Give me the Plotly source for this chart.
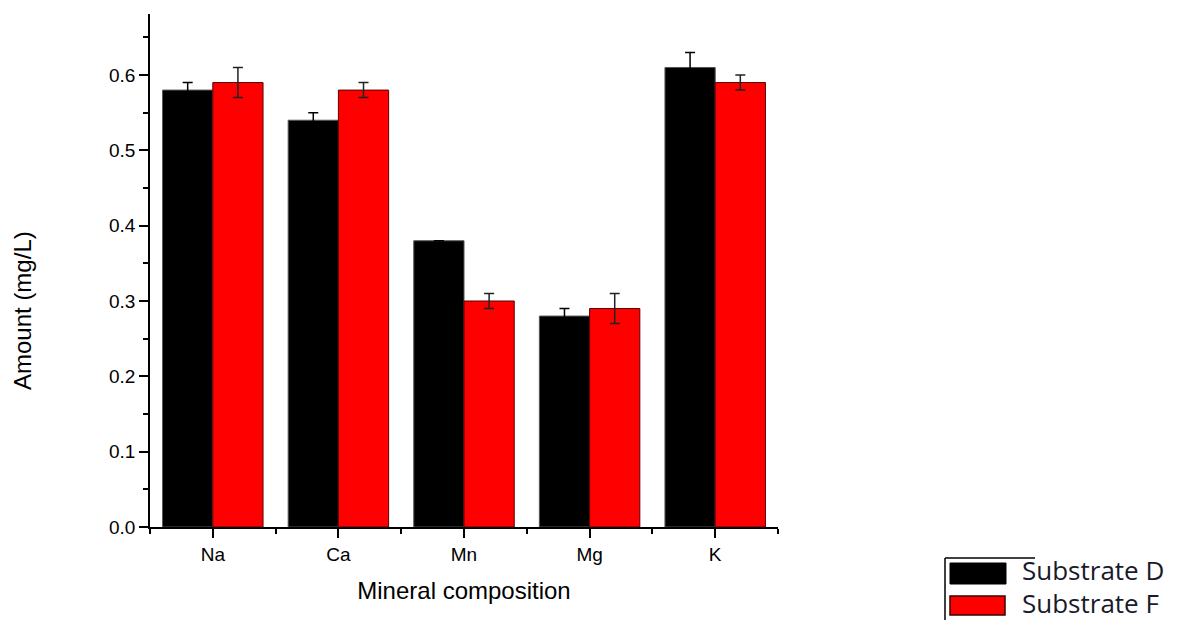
import plotly.graph_objects as go

categories = ["Na", "Ca", "Mn", "Mg", "K"]
series_names = ["Substrate D", "Substrate F"]
substrate_d = [0.58, 0.54, 0.38, 0.28, 0.61]
substrate_d_err = [0.01, 0.01, 0.0, 0.01, 0.02]
substrate_f = [0.59, 0.58, 0.30, 0.29, 0.59]
substrate_f_err = [0.02, 0.01, 0.01, 0.02, 0.01]
y_tick_vals = [0.0, 0.1, 0.2, 0.3, 0.4, 0.5, 0.6]
y_tick_text = ["0.0", "0.1", "0.2", "0.3", "0.4", "0.5", "0.6"]

x_idx = list(range(len(categories)))

fig = go.Figure()
fig.add_trace(go.Bar(
    x=x_idx, y=substrate_d, name=series_names[0],
    marker=dict(color="#000000", line=dict(color="#555555", width=1)),
    error_y=dict(type="data", array=substrate_d_err, visible=True,
                 color="#000000", thickness=1.5, width=5),
    width=0.4, offset=-0.4,
))
fig.add_trace(go.Bar(
    x=x_idx, y=substrate_f, name=series_names[1],
    marker=dict(color="#ff0000", line=dict(color="#5a0000", width=1)),
    error_y=dict(type="data", array=substrate_f_err, visible=True,
                 color="#222222", thickness=1.5, width=5),
    width=0.4, offset=0.0,
))

font_main = "Liberation Sans, Arial, sans-serif"

fig.update_layout(
    width=1179, height=620,
    paper_bgcolor="white", plot_bgcolor="white",
    margin=dict(l=150, r=401, t=14, b=93, pad=0),
    showlegend=False,
    barmode="overlay",
    font=dict(family=font_main, color="#000000"),
    xaxis=dict(
        range=[-0.5, 4.5],
        tickmode="array", tickvals=x_idx, ticktext=categories,
        ticks="outside", ticklen=9, tickwidth=1.5, tickcolor="#000",
        minor=dict(tick0=-0.5, dtick=1, ticks="outside", ticklen=5,
                   tickwidth=1.5, tickcolor="#000"),
        showline=True, linecolor="#000", linewidth=1.5,
        showgrid=False, zeroline=False,
        tickfont=dict(size=19, family=font_main),
        title=dict(text="Mineral composition", font=dict(size=24, family=font_main), standoff=19),
    ),
    yaxis=dict(
        range=[0, 0.681],
        tickmode="array", tickvals=y_tick_vals, ticktext=y_tick_text,
        ticks="outside", ticklen=9, tickwidth=1.5, tickcolor="#000",
        minor=dict(tick0=0, dtick=0.05, ticks="outside", ticklen=5,
                   tickwidth=1.5, tickcolor="#000"),
        showline=True, linecolor="#000", linewidth=1.5,
        showgrid=False, zeroline=False,
        tickfont=dict(size=19, family=font_main),
    ),
)

# y-axis title (placed lower than centre as in the reference)
fig.add_annotation(
    text="Amount (mg/L)", textangle=-90,
    xref="paper", yref="paper",
    x=(22 - 150) / 628, y=(527 - 311) / 513,
    showarrow=False, xanchor="center", yanchor="middle",
    font=dict(size=24, family=font_main, color="#000"),
)

# Legend drawn at bottom right (as in the reference image)
def px_x(px):
    return (px - 150) / 628

def px_y(py):
    return (527 - py) / 513

fig.add_shape(type="line", xref="paper", yref="paper",
              x0=px_x(945), x1=px_x(1035), y0=px_y(558), y1=px_y(558),
              line=dict(color="#000", width=1.5))
fig.add_shape(type="line", xref="paper", yref="paper",
              x0=px_x(945), x1=px_x(945), y0=px_y(558), y1=px_y(622),
              line=dict(color="#000", width=1.5))
fig.add_shape(type="rect", xref="paper", yref="paper",
              x0=px_x(950), x1=px_x(1006), y0=px_y(584), y1=px_y(563),
              fillcolor="#000000", line=dict(color="#000", width=1))
fig.add_shape(type="rect", xref="paper", yref="paper",
              x0=px_x(950), x1=px_x(1005), y0=px_y(615), y1=px_y(596),
              fillcolor="#ff0000", line=dict(color="#3a0000", width=1.5))
fig.add_annotation(text=series_names[0], xref="paper", yref="paper",
                   x=px_x(1020), y=px_y(570), showarrow=False,
                   xanchor="left", yanchor="middle",
                   font=dict(size=26, family="Open Sans, sans-serif", color="#1a1a2a"))
fig.add_annotation(text=series_names[1], xref="paper", yref="paper",
                   x=px_x(1020), y=px_y(603), showarrow=False,
                   xanchor="left", yanchor="middle",
                   font=dict(size=26, family="Open Sans, sans-serif", color="#1a1a2a"))

fig.write_html("out.html", config={"displayModeBar": False},
               post_script="document.body.style.margin='0px';document.body.style.overflow='hidden';")
